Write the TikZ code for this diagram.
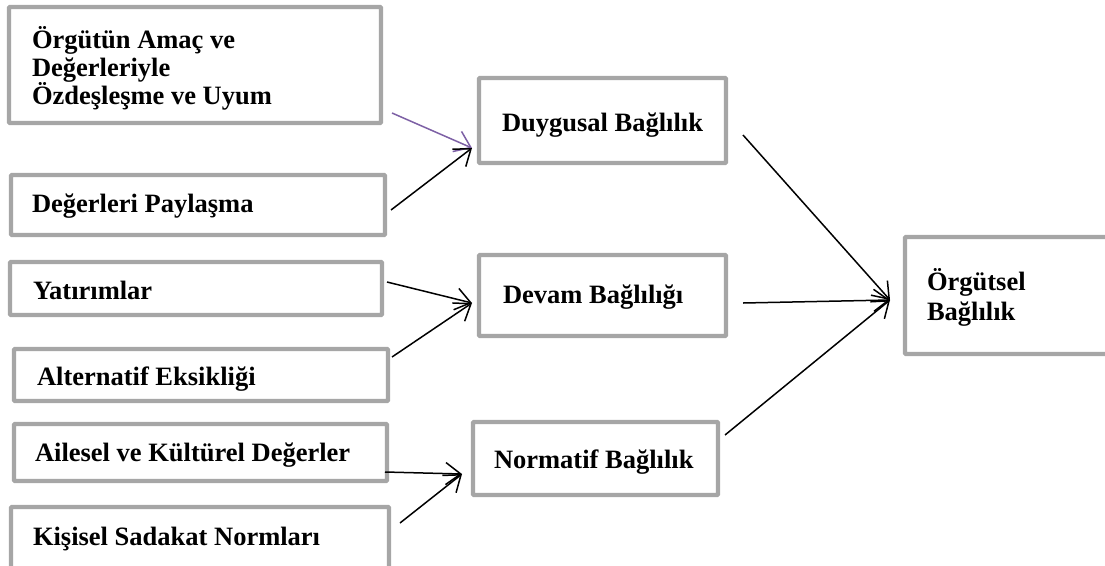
\documentclass[tikz,border=0pt]{standalone}
\usepackage{fontspec}
\setmainfont{Liberation Serif}
\usetikzlibrary{arrows.meta}
\definecolor{boxgray}{RGB}{166,166,166}
\definecolor{arrpurple}{RGB}{125,96,165}
\tikzset{
  box/.style={draw=boxgray, line width=4.4pt, rounded corners=1pt, inner sep=0pt, outer sep=0pt, anchor=north west, fill=white},
  txt/.style={inner sep=0pt, outer sep=0pt, anchor=base west, font=\fontsize{26.5}{28}\selectfont\bfseries, align=left, text=black},
  arr/.style={line width=1.5pt, -{Straight Barb[length=15pt,width=22pt,line width=1.5pt]}},
}
\begin{document}
\begin{tikzpicture}[x=1pt,y=-1pt]
\useasboundingbox (0,0) rectangle (1105,565);
\begin{scope}
\clip (0,0) rectangle (1105,565);
% boxes
\node[box, minimum width=372pt, minimum height=116pt] (b1) at (9,7) {};
\node[box, minimum width=374pt, minimum height=60pt] (b2) at (11,175) {};
\node[box, minimum width=372pt, minimum height=53pt] (b3) at (10,262) {};
\node[box, minimum width=374pt, minimum height=52pt] (b4) at (14,349) {};
\node[box, minimum width=373pt, minimum height=57pt] (b5) at (14,424) {};
\node[box, minimum width=378pt, minimum height=70pt] (b6) at (11,507) {};
\node[box, minimum width=247pt, minimum height=85pt] (d1) at (479,78) {};
\node[box, minimum width=247pt, minimum height=81pt] (d2) at (479,255) {};
\node[box, minimum width=245pt, minimum height=73pt] (d3) at (473,422) {};
\node[box, minimum width=230pt, minimum height=117pt] (o) at (905,237) {};
% texts
\node[txt] (t1) at (32,104) {Örgütün Amaç ve\\Değerleriyle\\Özdeşleşme ve Uyum};
\node[txt] (t2) at (32,212) {Değerleri Paylaşma};
\node[txt] (t3) at (33,299) {Yatırımlar};
\node[txt] (t4) at (37,385) {Alternatif Eksikliği};
\node[txt] (t5) at (35,461) {Ailesel ve Kültürel Değerler};
\node[txt] (t6) at (33,545) {Kişisel Sadakat Normları};
\node[txt] (td1) at (502,131) {Duygusal Bağlılık};
\node[txt] (td2) at (503,303) {Devam Bağlılığı};
\node[txt] (td3) at (494,468) {Normatif Bağlılık};
\node[txt, font=\fontsize{26.5}{30}\selectfont\bfseries] (to) at (927,320) {Örgütsel\\Bağlılık};
% arrows
\draw[arr, draw=arrpurple] ([shift={(11,-10)}]b1.south east) -- ([shift={(-7,-15)}]d1.south west);
\draw[arr] ([shift={(6,5)}]b2.east) -- ([shift={(-7,-15)}]d1.south west);
\draw[arr] ([shift={(5,-6.5)}]b3.east) -- ([shift={(-7,7.5)}]d2.west);
\draw[arr] ([shift={(4,8)}]b4.north east) -- ([shift={(-7,7.5)}]d2.west);
\draw[arr] ([shift={(-2,19.5)}]b5.east) -- ([shift={(-11,15.5)}]d3.west);
\draw[arr] ([shift={(11,16)}]b6.north east) -- ([shift={(-11,15.5)}]d3.west);
\draw[arr] ([shift={(17,14.5)}]d1.east) -- ([shift={(-15,4.5)}]o.west);
\draw[arr] ([shift={(17,7.5)}]d2.east) -- ([shift={(-15,4.5)}]o.west);
\draw[arr] ([shift={(7,13)}]d3.north east) -- ([shift={(-15,4.5)}]o.west);
\end{scope}
\end{tikzpicture}
\end{document}
